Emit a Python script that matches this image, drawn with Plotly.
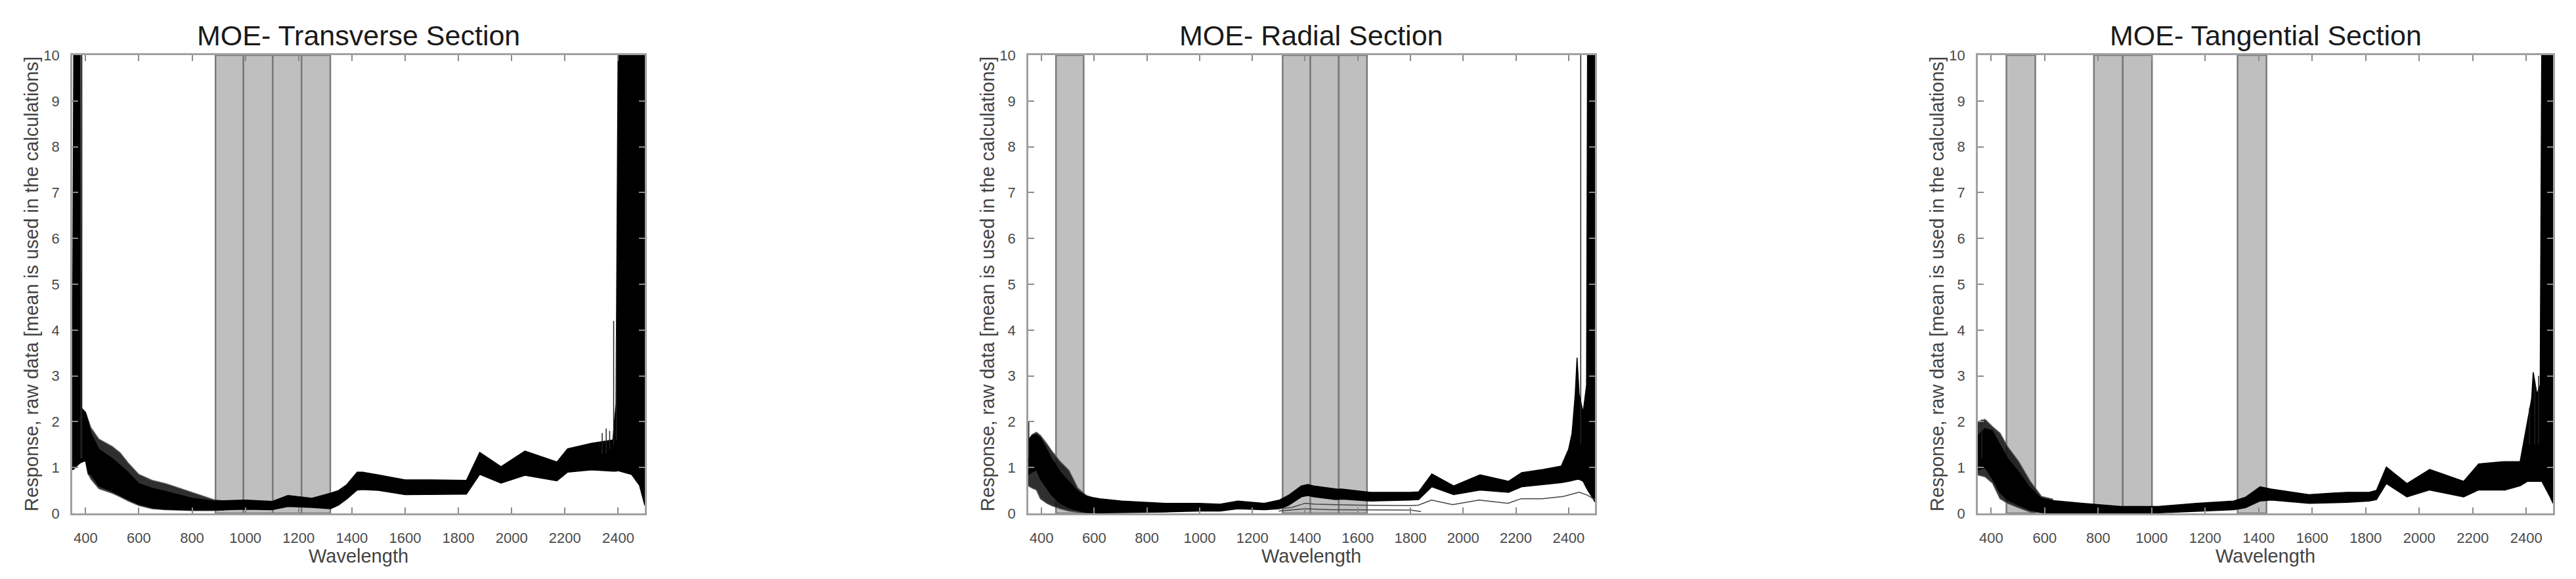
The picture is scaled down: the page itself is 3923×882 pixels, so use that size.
import plotly.graph_objects as go

# ---------------- data ----------------
TITLES = ["MOE- Transverse Section", "MOE- Radial Section", "MOE- Tangential Section"]
X_LABEL = "Wavelength"
Y_LABEL = "Response, raw data [mean is used in the calculations]"
X_TICKS = [400, 600, 800, 1000, 1200, 1400, 1600, 1800, 2000, 2200, 2400]
Y_TICKS = [0, 1, 2, 3, 4, 5, 6, 7, 8, 9, 10]

# Transverse section: dense core of spectra (upper / lower edge)
TR_WL = [350, 356, 378, 384, 400, 410, 420, 450, 500, 550, 600, 650, 700, 800, 880, 1000, 1100, 1160, 1250, 1320,
         1350, 1380, 1420, 1440, 1500, 1600, 1700, 1800, 1830, 1880, 1960, 2050, 2170, 2210, 2300, 2380, 2392, 2400,
         2450, 2480, 2500]
TR_UP = [2.0, 10.5, 10.5, 2.3, 2.2, 2.0, 1.75, 1.40, 1.20, 0.95, 0.65, 0.55, 0.48, 0.33, 0.27, 0.29, 0.26, 0.39, 0.33, 0.44,
         0.50, 0.62, 0.90, 0.90, 0.84, 0.73, 0.73, 0.73, 0.72, 1.33, 1.02, 1.36, 1.12, 1.41, 1.53, 1.60, 2.4, 10.5,
         10.5, 10.5, 10.5]
TR_LO = [0.95, 0.97, 1.10, 1.12, 1.15, 0.86, 0.85, 0.60, 0.48, 0.33, 0.20, 0.12, 0.09, 0.07, 0.07, 0.09, 0.08, 0.15, 0.13, 0.10,
         0.18, 0.31, 0.51, 0.52, 0.50, 0.41, 0.42, 0.42, 0.42, 0.85, 0.66, 0.83, 0.71, 0.90, 0.95, 0.92, 0.92, 0.93,
         0.85, 0.61, 0.17]
# outer spread of individual spectra (visible region)
TR_SPREAD_WL = [350, 384, 400, 410, 420, 450, 480, 500, 530, 560, 600, 650, 700, 800, 880, 920]
TR_SPREAD_UP = [2.0, 2.3, 2.2, 2.05, 1.87, 1.62, 1.52, 1.46, 1.32, 1.10, 0.85, 0.72, 0.65, 0.45, 0.30, 0.27]
TR_SPREAD_LO = [0.95, 1.12, 1.15, 0.86, 0.75, 0.54, 0.48, 0.44, 0.36, 0.27, 0.17, 0.10, 0.08, 0.06, 0.06, 0.07]
TR_SPIKE_WL = [382, 386, 2340, 2355, 2368, 2383, 2393]
TR_SPIKE_BASE = [1.2, 1.2, 1.3, 1.3, 1.4, 1.5, 1.6]
TR_SPIKE_TOP = [10.5, 10.5, 1.75, 1.85, 1.80, 4.2, 3.85]
TR_BAND_START = [888, 993, 1103, 1211]
TR_BAND_END = [993, 1103, 1211, 1319]

# Radial section
RA_WL = [350, 365, 381, 396, 420, 438, 471, 504, 538, 571, 621, 704, 870, 995, 1078, 1145, 1245, 1303, 1336, 1386,
         1411, 1432, 1519, 1540, 1648, 1798, 1831, 1881, 1964, 2064, 2172, 2222, 2305, 2372, 2400, 2413, 2425, 2432,
         2440, 2455, 2468, 2472, 2500]
RA_UP = [1.60, 1.70, 1.72, 1.65, 1.40, 1.20, 0.90, 0.70, 0.48, 0.37, 0.32, 0.27, 0.22, 0.22, 0.20, 0.27, 0.22, 0.29, 0.39, 0.60,
         0.63, 0.60, 0.53, 0.53, 0.46, 0.46, 0.47, 0.86, 0.60, 0.84, 0.70, 0.89, 0.96, 1.03, 1.40, 1.75, 2.60, 3.40,
         2.60, 2.20, 2.80, 10.5, 10.5]
RA_LO = [0.85, 0.90, 0.95, 0.75, 0.55, 0.40, 0.22, 0.12, 0.06, 0.02, 0.01, 0.01, 0.03, 0.05, 0.05, 0.10, 0.08, 0.10, 0.17, 0.36,
         0.39, 0.36, 0.30, 0.31, 0.27, 0.29, 0.30, 0.58, 0.41, 0.51, 0.46, 0.58, 0.63, 0.67, 0.70, 0.72, 0.73, 0.74,
         0.74, 0.70, 0.55, 0.51, 0.25]
RA_SPREAD_WL = [350, 365, 381, 396, 420, 438, 471, 504, 538, 571, 600]
RA_SPREAD_UP = [1.60, 1.72, 1.77, 1.70, 1.52, 1.37, 1.13, 0.94, 0.55, 0.39, 0.33]
RA_SPREAD_LO = [0.60, 0.55, 0.51, 0.32, 0.22, 0.17, 0.10, 0.05, 0.03, 0.00, 0.00]
RA_LOW1_WL = [1300, 1350, 1400, 1440, 1600, 1800, 1830, 1880, 1960, 2060, 2170, 2220, 2300, 2380, 2440, 2470, 2500]
RA_LOW1 = [0.10, 0.13, 0.22, 0.20, 0.18, 0.17, 0.18, 0.29, 0.19, 0.29, 0.22, 0.32, 0.32, 0.37, 0.46, 0.40, 0.30]
RA_LOW2_WL = [1300, 1400, 1500, 1800, 1840]
RA_LOW2 = [0.05, 0.10, 0.08, 0.07, 0.04]
RA_SPIKE_WL = [352, 2446]
RA_SPIKE_BASE = [1.2, 1.5]
RA_SPIKE_TOP = [2.0, 10.5]
RA_BAND_START = [455, 1315, 1420, 1528]
RA_BAND_END = [560, 1420, 1528, 1635]

# Tangential section
TA_WL = [350, 377, 405, 433, 461, 503, 546, 588, 630, 743, 884, 1025, 1166, 1306, 1350, 1405, 1447, 1588, 1729, 1813,
         1840, 1877, 1954, 2039, 2166, 2222, 2320, 2377, 2405, 2420, 2426, 2440, 2452, 2458, 2489, 2500]
TA_UP = [1.70, 1.85, 1.80, 1.50, 1.20, 0.90, 0.55, 0.33, 0.28, 0.22, 0.15, 0.15, 0.22, 0.27, 0.35, 0.58, 0.53, 0.41, 0.46, 0.46,
         0.50, 1.01, 0.65, 0.96, 0.70, 1.08, 1.13, 1.13, 2.03, 2.50, 3.08, 2.60, 2.80, 10.5, 10.5, 10.5]
TA_LO = [0.95, 1.00, 0.75, 0.45, 0.30, 0.18, 0.07, 0.02, 0.00, 0.00, 0.00, 0.01, 0.05, 0.08, 0.12, 0.27, 0.29, 0.22, 0.24, 0.27,
         0.30, 0.65, 0.36, 0.51, 0.36, 0.51, 0.51, 0.60, 0.70, 0.70, 0.70, 0.70, 0.70, 0.70, 0.36, 0.22]
TA_SPREAD_WL = [350, 377, 405, 433, 461, 503, 546, 588, 630]
TA_SPREAD_UP = [2.00, 2.05, 1.89, 1.75, 1.46, 1.13, 0.70, 0.37, 0.31]
TA_SPREAD_LO = [0.84, 0.80, 0.66, 0.32, 0.22, 0.12, 0.03, 0.01, 0.00]
TA_SPIKE_WL = [365, 2412, 2432, 2446]
TA_SPIKE_BASE = [1.2, 1.5, 1.5, 1.5]
TA_SPIKE_TOP = [2.05, 2.3, 2.8, 3.0]
TA_BAND_START = [457, 784, 892, 1321]
TA_BAND_END = [565, 892, 1001, 1429]

# ---------------- layout constants (pixels) ----------------
W, H = 3923, 882
PLOT_X = [(110, 982), (1566, 2429), (3012, 3888)]
PLOT_TOP, PLOT_BOTTOM = 84, 782
FONT = "Liberation Sans, Arial, Helvetica, sans-serif"

panels = [
    dict(wl=TR_WL, up=TR_UP, lo=TR_LO, swl=TR_SPREAD_WL, sup=TR_SPREAD_UP, slo=TR_SPREAD_LO,
         kwl=TR_SPIKE_WL, kbase=TR_SPIKE_BASE, ktop=TR_SPIKE_TOP, b0=TR_BAND_START, b1=TR_BAND_END, extra=[]),
    dict(wl=RA_WL, up=RA_UP, lo=RA_LO, swl=RA_SPREAD_WL, sup=RA_SPREAD_UP, slo=RA_SPREAD_LO,
         kwl=RA_SPIKE_WL, kbase=RA_SPIKE_BASE, ktop=RA_SPIKE_TOP, b0=RA_BAND_START, b1=RA_BAND_END,
         extra=[(RA_LOW1_WL, RA_LOW1), (RA_LOW2_WL, RA_LOW2)]),
    dict(wl=TA_WL, up=TA_UP, lo=TA_LO, swl=TA_SPREAD_WL, sup=TA_SPREAD_UP, slo=TA_SPREAD_LO,
         kwl=TA_SPIKE_WL, kbase=TA_SPIKE_BASE, ktop=TA_SPIKE_TOP, b0=TA_BAND_START, b1=TA_BAND_END, extra=[]),
]

fig = go.Figure()
shapes = []
annotations = []
ydom = [1 - PLOT_BOTTOM / H, 1 - PLOT_TOP / H]

for i, p in enumerate(panels):
    n = "" if i == 0 else str(i + 1)
    xa, ya = "x" + n, "y" + n
    # spread of individual spectra
    fig.add_trace(go.Scatter(
        x=p["swl"] + p["swl"][::-1], y=p["sup"] + p["slo"][::-1],
        xaxis=xa, yaxis=ya, mode="lines", fill="toself",
        fillcolor="rgba(10,10,10,0.85)", line=dict(color="#555555", width=1.5),
        hoverinfo="skip", showlegend=False))
    # dense core
    fig.add_trace(go.Scatter(
        x=p["wl"] + p["wl"][::-1], y=p["up"] + p["lo"][::-1],
        xaxis=xa, yaxis=ya, mode="lines", fill="toself",
        fillcolor="#000000", line=dict(color="#000000", width=1.5),
        hoverinfo="skip", showlegend=False))
    # outlying single spectra
    for ex_wl, ex_y in p["extra"]:
        fig.add_trace(go.Scatter(x=ex_wl, y=ex_y, xaxis=xa, yaxis=ya, mode="lines",
                                 line=dict(color="#444444", width=1.5), hoverinfo="skip", showlegend=False))
    # noise spikes
    sx, sy = [], []
    for w, b, t in zip(p["kwl"], p["kbase"], p["ktop"]):
        sx += [w, w, None]
        sy += [b, t, None]
    fig.add_trace(go.Scatter(x=sx, y=sy, xaxis=xa, yaxis=ya, mode="lines",
                             line=dict(color="#222222", width=1.5), hoverinfo="skip", showlegend=False))
    # excluded wavelength bands
    for a, b in zip(p["b0"], p["b1"]):
        shapes.append(dict(type="rect", xref=xa, yref=ya, x0=a, x1=b, y0=0, y1=10,
                           fillcolor="#bfbfbf", line=dict(color="#7a7a7a", width=2.5), layer="below"))

    x0p, x1p = PLOT_X[i]
    xdom = [x0p / W, x1p / W]
    axis_common = dict(showgrid=False, zeroline=False, showline=True, linecolor="#a0a0a0", linewidth=2.5,
                       mirror="ticks", ticks="inside", ticklen=9, tickwidth=2, tickcolor="#8a8a8a",
                       tickfont=dict(family=FONT, size=22, color="#4a4a4a"), automargin=False)
    fig.layout["xaxis" + n] = dict(domain=xdom, range=[350, 2500], tickvals=X_TICKS, anchor=ya,
                                   ticklabelstandoff=16, **axis_common)
    fig.layout["yaxis" + n] = dict(domain=ydom, range=[0, 10], tickvals=Y_TICKS, anchor=xa,
                                   ticklabelstandoff=12, **axis_common)
    cx = (x0p + x1p) / 2 / W
    annotations.append(dict(text=TITLES[i], x=cx, y=1 - 54 / H, xref="paper", yref="paper",
                            xanchor="center", yanchor="middle", showarrow=False,
                            font=dict(family=FONT, size=43, color="#1a1a1a")))
    annotations.append(dict(text=X_LABEL, x=cx, y=1 - 847 / H, xref="paper", yref="paper",
                            xanchor="center", yanchor="middle", showarrow=False,
                            font=dict(family=FONT, size=29, color="#444444")))
    annotations.append(dict(text=Y_LABEL, x=(x0p - 62) / W, y=1 - (PLOT_TOP + PLOT_BOTTOM) / 2 / H,
                            xref="paper", yref="paper", xanchor="center", yanchor="middle",
                            textangle=-90, showarrow=False,
                            font=dict(family=FONT, size=29, color="#444444")))

fig.update_layout(width=W, height=H, margin=dict(l=0, r=0, t=0, b=0, pad=0),
                  paper_bgcolor="white", plot_bgcolor="white", template="none",
                  shapes=shapes, annotations=annotations, showlegend=False)

fig.write_html("out.html", config={"displayModeBar": False},
               post_script="document.body.style.margin='0';document.body.style.overflow='hidden';")
